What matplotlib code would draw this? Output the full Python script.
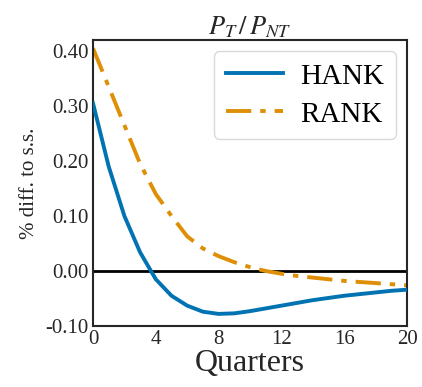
import numpy as np
import matplotlib.pyplot as plt

plt.rcParams['font.family'] = ['Liberation Serif', 'DejaVu Serif']
plt.rcParams['mathtext.fontset'] = 'stix'

quarters = np.arange(21)
hank = [0.305, 0.19, 0.10, 0.034, -0.015, -0.045, -0.063, -0.074, -0.078, -0.077,
        -0.073, -0.068, -0.063, -0.058, -0.053, -0.049, -0.045, -0.042, -0.039,
        -0.036, -0.034]
rank = [0.405, 0.335, 0.265, 0.195, 0.14, 0.10, 0.063, 0.041, 0.027, 0.016,
        0.007, 0.0, -0.005, -0.009, -0.012, -0.015, -0.018, -0.020, -0.022,
        -0.024, -0.026]

fig = plt.figure(figsize=(4.22, 3.87), dpi=100)
ax = fig.add_axes([93 / 422, 1 - 326 / 387, 314 / 422, 286 / 387])

ax.axhline(0, color='black', lw=2, zorder=1)
ax.plot(quarters, hank, color='#0173B2', lw=2.8, label='HANK', zorder=3)
ax.plot(quarters, rank, color='#DE8F05', lw=2.8, dashes=(6.5, 2.3, 1.4, 2.3),
        label='RANK', zorder=2)

ax.set_xlim(0, 20)
ax.set_ylim(-0.10, 0.42)
ax.set_xticks([0, 4, 8, 12, 16, 20])
ax.set_yticks([-0.10, 0.0, 0.10, 0.20, 0.30, 0.40])
ax.set_yticklabels(['-0.10', '0.00', '0.10', '0.20', '0.30', '0.40'])
ax.tick_params(length=0, labelsize=15, pad=3, colors='#262626')
for s in ax.spines.values():
    s.set_color('#262626')
    s.set_linewidth(1.5)

ax.set_xlabel('Quarters', fontsize=23, color='#262626', labelpad=0)
ax.set_ylabel('% diff. to s.s.', fontsize=15, color='#262626', labelpad=5)
ax.set_title(r'$P_T\,/\,P_{NT}$', fontsize=19, color='#262626', pad=4)

leg = ax.legend(loc='upper right', bbox_to_anchor=(0.964, 0.96),
                fontsize=21, handlelength=1.95, borderpad=0.4,
                labelspacing=0.4, handletextpad=0.6, borderaxespad=0.0,
                fancybox=True)
leg.get_frame().set_edgecolor('#d0d0d0')

fig.savefig('out.png', dpi=100)
